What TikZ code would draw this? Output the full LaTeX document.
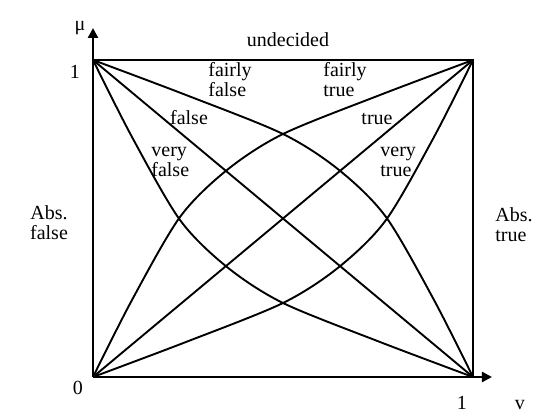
\documentclass[tikz,border=0pt]{standalone}
\usepackage{fontspec}
\setmainfont{Liberation Serif}
\usetikzlibrary{arrows.meta}
\newcommand{\BW}{380}
\newcommand{\BH}{317}

\begin{document}
\begin{tikzpicture}[
    x=0.5pt, y=0.5pt,
    >={Triangle[length=5pt,width=5pt]},
    frame/.style={draw=black, line width=1.1pt},
    curve/.style={draw=black, line width=0.95pt, line join=round},
    tag/.style={font=\fontsize{10}{10}\selectfont, inner sep=0pt},
  ]
  \useasboundingbox (-93,-40) rectangle (455,377);

  %% ================= corners of the unit square =================
  \coordinate (O)  at (0,0);
  \coordinate (X1) at (\BW,0);
  \coordinate (XY) at (\BW,\BH);
  \coordinate (Y1) at (0,\BH);
  \coordinate (xtip) at (399,0);
  \coordinate (ytip) at (0,349);

  %% ================= axes and frame =================
  \draw[frame, ->] (O) -- (xtip);
  \draw[frame, ->] (O) -- (ytip);
  \draw[frame] (Y1) -- (XY) -- (X1);

  %% ================= the truth curves =================
  % rising: fairly true, true, very true
  \draw[curve] plot[smooth] coordinates {(O) (39,77) (87,160) (134,207) (190,243) (287,282) (XY)};
  \draw[curve] (O) -- (XY);
  \draw[curve] plot[smooth] coordinates {(O) (93,35) (190,74) (246,110) (293,157) (341,240) (XY)};
  % falling: fairly false, false, very false
  \draw[curve] plot[smooth] coordinates {(Y1) (93,282) (190,243) (246,207) (293,160) (341,77) (X1)};
  \draw[curve] (Y1) -- (X1);
  \draw[curve] plot[smooth] coordinates {(Y1) (39,240) (87,157) (134,110) (190,74) (287,35) (X1)};

  %% ================= axis labels =================
  \node[tag] (mu)    at (-13,349) {μ};
  \node[tag] (one-y) at (-18,305) {1};
  \node[tag] (zero)  at (-15,-11) {0};
  \node[tag] (one-x) at (369,-26) {1};
  \node[tag] (nu)    at (427,-28) {v};

  %% ================= curve labels =================
  \node[tag] (undec) at (195,337) {undecided};
  \node[tag, align=left, anchor=west] (ffalse) at (115,297) {fairly\\false};
  \node[tag, align=left, anchor=west] (ftrue)  at (230,297) {fairly\\true};
  \node[tag] (false) at (96,259)  {false};
  \node[tag] (true)  at (284,258) {true};
  \node[tag, align=left, anchor=west] (vfalse) at (58,215)  {very\\false};
  \node[tag, align=left, anchor=west] (vtrue)  at (287,215) {very\\true};
  \node[tag, align=center] (afalse) at (-44,154) {Abs.\\false};
  \node[tag, align=left, anchor=west] (atrue) at (402,152) {Abs.\\true};

\end{tikzpicture}
\end{document}
